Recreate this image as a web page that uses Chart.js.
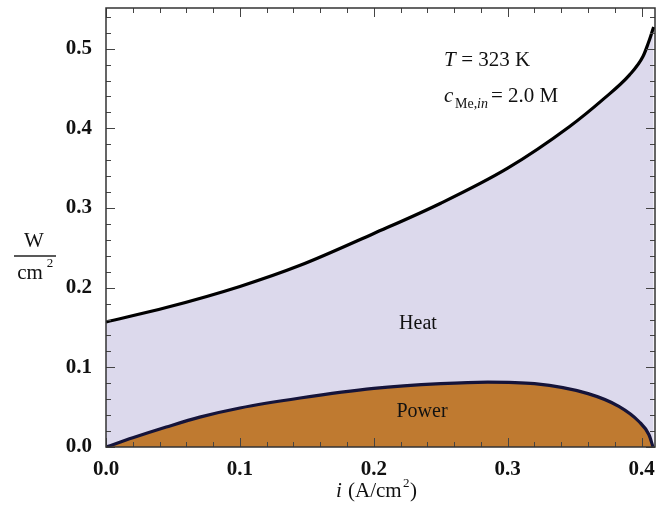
<!DOCTYPE html>
<html>
<head>
<meta charset="utf-8">
<script src="https://cdn.jsdelivr.net/npm/chart.js@4.4.0/dist/chart.umd.min.js"></script>
<style>
  html, body { margin: 0; padding: 0; background: #fff; }
  #wrap { width: 670px; height: 509px; position: relative; }
</style>
</head>
<body>
<div id="wrap"><canvas id="myChart" width="670" height="509"></canvas></div>
<script>
// values
const powerI = [0, 0.02, 0.045, 0.07, 0.1, 0.145, 0.2, 0.25, 0.285, 0.32, 0.36, 0.383, 0.398, 0.4055, 0.4085];
const powerW = [0, 0.0115, 0.025, 0.0375, 0.049, 0.0615, 0.0735, 0.0795, 0.0815, 0.0795, 0.067, 0.051, 0.032, 0.0154, 0];

const totalI = [0, 0.045, 0.1, 0.145, 0.2, 0.25, 0.3, 0.346, 0.371, 0.391, 0.401, 0.405, 0.408, 0.409];
const totalW = [0.157, 0.175, 0.2015, 0.228, 0.268, 0.306, 0.35, 0.402, 0.436, 0.467, 0.49, 0.507, 0.522, 0.527];

const xTicks = [0, 0.1, 0.2, 0.3, 0.4];
const yTicks = [0, 0.1, 0.2, 0.3, 0.4, 0.5];
const minorStep = 0.02;

const serif = '"Liberation Serif", "DejaVu Serif", serif';

function pts(xs, ys) {
  return xs.map((x, k) => ({x: x, y: ys[k]}));
}

// frame, inside ticks on all four sides and the texts
const framePlugin = {
  id: 'frame',
  afterDraw(chart) {
    const ctx = chart.ctx;
    const a = chart.chartArea;
    const xs = chart.scales.x, ys = chart.scales.y;
    ctx.save();
    ctx.strokeStyle = '#444';
    ctx.lineWidth = 1;
    ctx.beginPath();
    for (let v = 0; v <= xs.max + 1e-9; v += minorStep) {
      const major = Math.abs(v / 0.1 - Math.round(v / 0.1)) < 1e-6;
      const len = major ? 9 : 5;
      const px = Math.round(xs.getPixelForValue(v)) + 0.5;
      ctx.moveTo(px, a.bottom); ctx.lineTo(px, a.bottom - len);
      ctx.moveTo(px, a.top); ctx.lineTo(px, a.top + len);
    }
    for (let v = 0; v <= ys.max + 1e-9; v += minorStep) {
      const major = Math.abs(v / 0.1 - Math.round(v / 0.1)) < 1e-6;
      const len = major ? 9 : 5;
      const py = Math.round(ys.getPixelForValue(v)) + 0.5;
      ctx.moveTo(a.left, py); ctx.lineTo(a.left + len, py);
      ctx.moveTo(a.right, py); ctx.lineTo(a.right - len, py);
    }
    ctx.stroke();
    ctx.strokeStyle = '#333';
    ctx.lineWidth = 1.5;
    ctx.strokeRect(a.left, a.top, a.right - a.left, a.bottom - a.top);

    ctx.fillStyle = '#111';
    ctx.textBaseline = 'alphabetic';
    ctx.textAlign = 'left';
    // T = 323 K
    ctx.font = 'italic 21px ' + serif;
    ctx.fillText('T', 444, 66);
    ctx.font = '21px ' + serif;
    ctx.fillText(' = 323 K', 456, 66);
    // c_Me,in = 2.0 M
    ctx.font = 'italic 21px ' + serif;
    ctx.fillText('c', 444, 102);
    ctx.font = '14px ' + serif;
    ctx.fillText('Me,', 455, 108);
    ctx.font = 'italic 14px ' + serif;
    ctx.fillText('in', 477, 108);
    ctx.font = '21px ' + serif;
    ctx.fillText('= 2.0 M', 491, 102);

    // area labels
    ctx.font = '20px ' + serif;
    ctx.textAlign = 'center';
    ctx.fillText('Heat', 418, 329);
    ctx.fillText('Power', 422, 417);

    // y title as a fraction
    ctx.font = '21px ' + serif;
    ctx.fillText('W', 34, 247);
    ctx.beginPath();
    ctx.lineWidth = 1.5;
    ctx.strokeStyle = '#222';
    ctx.moveTo(14, 256); ctx.lineTo(56, 256);
    ctx.stroke();
    ctx.fillText('cm', 30, 279);
    ctx.font = '13px ' + serif;
    ctx.fillText('2', 50, 267);

    // x title
    ctx.textAlign = 'left';
    ctx.font = 'italic 21px ' + serif;
    ctx.fillText('i', 336, 497);
    ctx.font = '21px ' + serif;
    ctx.fillText('(A/cm', 348, 497);
    ctx.font = '13px ' + serif;
    ctx.fillText('2', 403, 487);
    ctx.font = '21px ' + serif;
    ctx.fillText(')', 410, 497);
    ctx.restore();
  }
};

const data = {
  datasets: [
    {
      label: 'Power',
      data: pts(powerI, powerW),
      borderColor: '#15143a',
      borderWidth: 3.2,
      backgroundColor: '#bf7a30',
      fill: 'origin',
      pointRadius: 0,
      cubicInterpolationMode: 'monotone',
    },
    {
      label: 'Heat',
      data: pts(totalI, totalW),
      borderColor: '#000000',
      borderWidth: 3.2,
      backgroundColor: '#dcd9ec',
      fill: 'origin',
      pointRadius: 0,
      cubicInterpolationMode: 'monotone',
    },
  ]
};

const config = {
  type: 'line',
  data: data,
  options: {
    responsive: false,
    animation: false,
    layout: { padding: { top: 8, right: 15, left: 0, bottom: 0 } },
    plugins: { legend: { display: false }, tooltip: { enabled: false } },
    scales: {
      x: {
        type: 'linear',
        min: 0,
        max: 0.41,
        grid: { display: false },
        border: { display: false },
        afterBuildTicks: scale => { scale.ticks = xTicks.map(v => ({value: v})); },
        afterFit: scale => { scale.height = 62; scale.paddingLeft = 0; scale.paddingRight = 0; },
        ticks: {
          padding: 2,
          maxRotation: 0,
          autoSkip: false,
          color: '#111',
          font: { family: serif, size: 21, weight: 'bold' },
          callback: v => v.toFixed(1),
        },
      },
      y: {
        min: 0,
        max: 0.551,
        grid: { display: false },
        border: { display: false },
        afterBuildTicks: scale => { scale.ticks = yTicks.map(v => ({value: v})); },
        afterFit: scale => { scale.width = 106; scale.paddingTop = 0; scale.paddingBottom = 0; },
        ticks: {
          padding: 6,
          color: '#111',
          font: { family: serif, size: 21, weight: 'bold' },
          callback: v => v.toFixed(1),
        },
      }
    }
  },
  plugins: [framePlugin],
};

const myChart = new Chart(document.getElementById('myChart'), config);
</script>
</body>
</html>
